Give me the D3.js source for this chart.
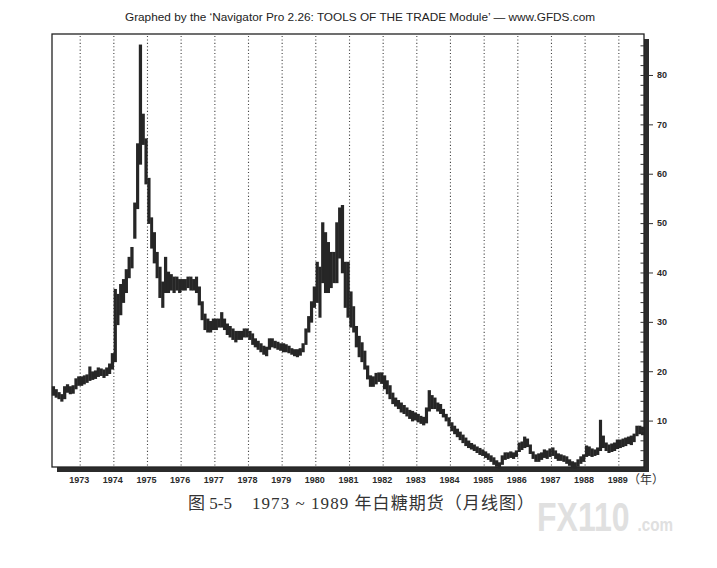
<!DOCTYPE html>
<html>
<head>
<meta charset="utf-8">
<script src="https://cdn.jsdelivr.net/npm/d3@7"></script>
<style>
    body { margin: 0; background: #fff; }
    svg { display: block; }
    .axis-label { font-family: "Liberation Sans", Arial, sans-serif; font-weight: bold; font-size: 9px; fill: #2a2a2a; }
    .chart-title { font-family: "Liberation Sans", Arial, sans-serif; font-size: 11.8px; fill: #222; }
    .caption { font-family: "Liberation Serif", "Noto Sans CJK SC", serif; font-size: 17px; fill: #333; }
</style>
</head>
<body>
<svg id="chart"></svg>
<script>
// monthly bars, first bar is March 1972
const startYear = 1972;
const startMonth = 2;

const lowPrices = [
    15.2, 14.8, 14.5, 14.0, 14.5, 15.8, 15.5, 15.6, 16.5, 17.2,                  // 1972 (Mar-Dec)
    17.2, 17.5, 17.8, 18.2, 18.4, 18.6, 19.0, 19.2, 18.8, 19.2, 19.6, 20.5,      // 1973
    22.0, 29.5, 31.5, 34.0, 36.0, 39.0, 41.0, 47.0, 53.0, 62.0, 66.0, 58.0,      // 1974
    50.0, 45.0, 42.0, 39.0, 35.0, 33.0, 36.0, 36.0, 36.5, 36.0, 36.5, 36.0,      // 1975
    36.5, 36.5, 37.0, 36.5, 36.5, 36.0, 33.5, 30.5, 28.5, 28.0, 28.0, 28.5,      // 1976
    28.5, 29.0, 29.0, 28.5, 27.5, 27.0, 26.5, 26.0, 26.5, 26.5, 27.0, 27.0,      // 1977
    26.5, 25.5, 25.0, 24.5, 24.0, 23.5, 23.2, 24.5, 25.0, 24.8, 24.5, 24.3,      // 1978
    24.0, 24.0, 23.8, 23.5, 23.2, 23.0, 23.3, 24.0, 25.5, 28.0, 30.0, 33.0,      // 1979
    34.0, 31.0, 38.0, 36.0, 36.0, 37.0, 38.0, 38.0, 43.0, 40.0, 33.0, 31.0,      // 1980
    29.0, 28.0, 25.0, 23.0, 22.0, 20.5, 18.5, 17.0, 17.0, 17.5, 18.0, 17.6,      // 1981
    16.5, 15.5, 14.5, 13.5, 13.0, 12.5, 11.8, 11.5, 11.0, 10.5, 10.0, 10.2,      // 1982
    9.8, 9.5, 9.2, 9.6, 12.0, 12.5, 12.5, 12.0, 11.5, 10.8, 10.0, 9.0,           // 1983
    8.0, 7.4, 6.8, 6.2, 5.6, 5.0, 4.6, 4.3, 4.0, 3.6, 3.2, 3.0,                  // 1984
    2.6, 2.2, 1.8, 1.2, 0.8, 0.4, 1.2, 2.2, 2.4, 2.6, 2.4, 2.8,                  // 1985
    3.8, 4.2, 4.6, 4.8, 3.4, 2.4, 1.8, 1.8, 2.2, 2.6, 2.4, 2.8,                  // 1986
    3.0, 2.4, 2.0, 2.0, 1.8, 1.4, 1.0, 0.5, 0.4, 0.8, 1.4, 1.8,                  // 1987
    2.8, 3.0, 2.8, 3.0, 3.2, 4.0, 4.6, 4.0, 3.6, 3.8, 4.0, 4.4,                  // 1988
    4.6, 4.8, 5.0, 5.4, 5.2, 5.8, 7.0, 7.4, 7.2                                  // 1989 (Jan-Sep)
];

const highPrices = [
    16.8, 16.2, 15.6, 15.2, 16.8, 17.2, 16.8, 17.0, 18.4, 18.8,                  // 1972
    18.8, 19.0, 19.2, 20.8, 19.8, 20.0, 20.6, 20.4, 20.2, 20.6, 21.4, 23.5,      // 1973
    36.5, 35.5, 37.5, 38.5, 40.5, 43.0, 45.0, 54.0, 66.0, 86.0, 72.0, 67.0,      // 1974
    59.0, 51.0, 48.0, 44.0, 41.0, 38.0, 43.0, 40.0, 39.5, 39.0, 39.0, 38.5,      // 1975
    38.5, 38.5, 39.0, 39.0, 38.5, 39.0, 37.0, 34.0, 31.5, 30.5, 30.0, 30.5,      // 1976
    30.5, 30.5, 31.8, 30.5, 29.5, 29.0, 28.5, 28.0, 28.0, 28.0, 28.5, 28.5,      // 1977
    28.0, 27.5, 26.5, 26.0, 25.5, 25.0, 24.8, 26.5, 26.5, 26.0, 25.8, 25.5,      // 1978
    25.5, 25.3, 25.0, 24.5, 24.3, 24.3, 24.5, 25.5, 28.5, 31.0, 34.0, 37.0,      // 1979
    42.0, 41.0, 50.0, 48.0, 46.0, 44.0, 44.0, 50.0, 53.0, 53.5, 42.0, 42.0,      // 1980
    36.0, 33.0, 29.0, 27.0, 25.7, 24.0, 21.0, 19.0, 18.8, 19.5, 19.6, 19.6,      // 1981
    19.0, 18.0, 17.0, 15.5, 14.5, 14.0, 13.5, 13.0, 12.5, 12.0, 11.8, 11.5,      // 1982
    11.2, 10.8, 10.6, 12.5, 16.0, 15.0, 14.5, 13.5, 13.2, 12.2, 11.2, 10.5,      // 1983
    9.5, 8.8, 8.2, 7.6, 7.0, 6.4, 5.8, 5.3, 5.0, 4.6, 4.3, 4.0,                  // 1984
    3.6, 3.2, 2.8, 2.4, 1.8, 1.4, 2.8, 3.4, 3.4, 3.6, 3.4, 3.8,                  // 1985
    5.4, 5.6, 6.6, 6.2, 5.0, 3.6, 3.0, 3.2, 3.4, 4.0, 3.8, 4.2,                  // 1986
    4.4, 3.8, 3.2, 3.0, 2.8, 2.6, 2.0, 1.6, 1.4, 2.0, 2.6, 3.0,                  // 1987
    4.8, 4.6, 4.2, 4.0, 4.4, 10.0, 6.8, 5.4, 5.0, 5.2, 5.4, 6.0,                 // 1988
    6.0, 6.2, 6.4, 6.6, 6.8, 7.2, 8.8, 8.8, 8.6                                  // 1989
];

const yearLabels = [1973, 1974, 1975, 1976, 1977, 1978, 1979, 1980, 1981,
    1982, 1983, 1984, 1985, 1986, 1987, 1988, 1989];
const priceTicks = [10, 20, 30, 40, 50, 60, 70, 80];

const titleText = "Graphed by the \u2018Navigator Pro 2.26: TOOLS OF THE TRADE Module\u2019 \u2014 www.GFDS.com";
const captionFigure = "图 5-5";
const captionText = "1973 ~ 1989 年白糖期货（月线图）";

class SugarChart {

    constructor(_config, _data) {
        this.config = {
            parentElement: _config.parentElement,
            containerWidth: 717,
            containerHeight: 568,
            shadow: 5,
            margin: {top: 34, right: 73, bottom: 101, left: 52}
        };
        this.data = _data;
        this.initVis();
    }

    initVis() {
        let vis = this;
        const m = vis.config.margin;

        vis.width = vis.config.containerWidth - m.left - m.right;
        vis.height = vis.config.containerHeight - m.top - m.bottom;

        vis.svg = d3.select(vis.config.parentElement)
            .attr('width', vis.config.containerWidth)
            .attr('height', vis.config.containerHeight);

        vis.svg.append('text')
            .attr('class', 'chart-title')
            .attr('x', 360)
            .attr('y', 21)
            .attr('text-anchor', 'middle')
            .text(titleText);

        vis.chart = vis.svg.append('g')
            .attr('transform', `translate(${m.left},${m.top})`);

        vis.xScale = d3.scaleUtc()
            .domain([new Date(Date.UTC(startYear, startMonth, 1)), new Date(Date.UTC(1989, 9, 1))])
            .range([0, vis.width]);

        vis.yScale = d3.scaleLinear()
            .domain([0.6, 88.3])
            .range([vis.height, 0]);

        // frame with the heavy drop shadow on the right and bottom
        vis.chart.append('rect')
            .attr('x', vis.config.shadow)
            .attr('y', vis.config.shadow)
            .attr('width', vis.width)
            .attr('height', vis.height)
            .attr('fill', '#2b2b2b');

        vis.chart.append('rect')
            .attr('width', vis.width)
            .attr('height', vis.height)
            .attr('fill', '#fff')
            .attr('stroke', '#222')
            .attr('stroke-width', 1.3);

        vis.renderVis();
    }

    renderVis() {
        let vis = this;
        const x = vis.xScale, y = vis.yScale;

        // year grid
        vis.chart.selectAll('.year-line')
            .data(yearLabels)
            .join('line')
            .attr('class', 'year-line')
            .attr('x1', d => x(new Date(Date.UTC(d, 0, 1))))
            .attr('x2', d => x(new Date(Date.UTC(d, 0, 1))))
            .attr('y1', 2)
            .attr('y2', vis.height - 1)
            .attr('stroke', '#444')
            .attr('stroke-width', 1.1)
            .attr('stroke-dasharray', '1.1,2.3');

        // monthly high-low bars
        vis.chart.selectAll('.price-bar')
            .data(vis.data)
            .join('rect')
            .attr('class', 'price-bar')
            .attr('x', d => x(d.date) - 0.2)
            .attr('width', d => x(d.next) - x(d.date) + 0.4)
            .attr('y', d => y(d.high) - 0.8)
            .attr('height', d => Math.max(y(d.low) - y(d.high) + 1.6, 2.8))
            .attr('fill', '#262626');

        // right price axis
        const axisX = vis.width + vis.config.shadow;
        const yAxis = d3.axisRight(y)
            .tickValues(priceTicks)
            .tickSize(4)
            .tickPadding(4);

        const axisG = vis.chart.append('g')
            .attr('transform', `translate(${axisX},0)`)
            .call(yAxis);
        axisG.select('.domain').remove();
        axisG.selectAll('.tick line').attr('stroke', '#333');
        axisG.selectAll('.tick text').attr('class', 'axis-label').attr('fill', null);

        // small inner ticks every two units
        const minorAxis = d3.axisLeft(y)
            .tickValues(d3.range(2, 88, 2))
            .tickSize(3.5)
            .tickFormat('');
        const minorG = vis.chart.append('g')
            .attr('transform', `translate(${vis.width},0)`)
            .call(minorAxis);
        minorG.select('.domain').remove();
        minorG.selectAll('.tick line').attr('stroke', '#333');

        // year labels
        vis.chart.selectAll('.year-label')
            .data(yearLabels)
            .join('text')
            .attr('class', 'axis-label year-label')
            .attr('x', d => x(new Date(Date.UTC(d, 0, 1))) - 1)
            .attr('y', vis.height + 16)
            .attr('text-anchor', 'middle')
            .text(d => d);

        vis.chart.append('text')
            .attr('x', vis.width + 2)
            .attr('y', vis.height + 17)
            .attr('text-anchor', 'middle')
            .style('font-family', '"Noto Sans CJK SC", sans-serif')
            .style('font-size', '12px')
            .style('fill', '#333')
            .text('（年）');

        vis.svg.append('text')
            .attr('class', 'caption')
            .attr('x', 188)
            .attr('y', 509)
            .text(captionFigure);

        vis.svg.append('text')
            .attr('class', 'caption')
            .attr('x', 252)
            .attr('y', 509)
            .attr('textLength', 282)
            .attr('lengthAdjust', 'spacing')
            .text(captionText);

        // faint watermark, one text so the two sizes sit side by side
        const wm = vis.svg.append('text')
            .attr('transform', 'translate(537,531) scale(0.8,1)')
            .attr('fill', '#e0e0e0')
            .style('font-family', '"Liberation Sans", Arial, sans-serif')
            .style('font-weight', 'bold');
        wm.append('tspan').style('font-size', '40px').text('FX110');
        wm.append('tspan').attr('dx', 10).style('font-size', '19px').text('.com');
    }
}

const monthlyData = lowPrices.map((lo, i) => ({
    date: new Date(Date.UTC(startYear, startMonth + i, 1)),
    next: new Date(Date.UTC(startYear, startMonth + i + 1, 1)),
    low: lo,
    high: highPrices[i]
}));

const sugarChart = new SugarChart({parentElement: '#chart'}, monthlyData);
</script>
</body>
</html>
